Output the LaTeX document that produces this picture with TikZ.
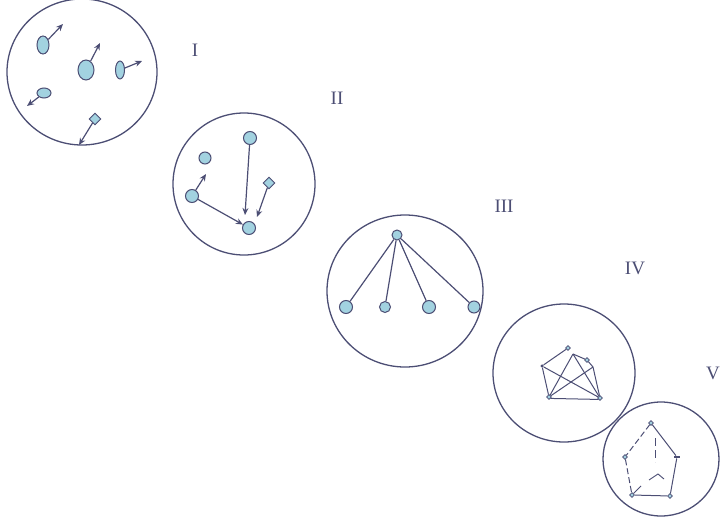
\documentclass[tikz,border=0pt]{standalone}
\usepackage{fontspec}
\setmainfont{Liberation Serif}
\usetikzlibrary{shapes.geometric,arrows.meta}
\definecolor{ln}{HTML}{4C4E74}
\definecolor{nf}{HTML}{A2D2E0}
\tikzset{
  ring/.style={draw=ln, line width=1.3pt},
  blob/.style={ellipse, draw=ln, fill=nf, inner sep=0pt, line width=1pt},
  ball/.style={circle, draw=ln, fill=nf, inner sep=0pt, line width=1pt},
  gem/.style={diamond, draw=ln, fill=nf, inner sep=0pt, line width=0.9pt},
  tiny/.style={diamond, draw=ln, fill=nf, inner sep=0pt, minimum size=5pt, line width=0.7pt},
  link/.style={draw=ln, line width=1.2pt},
  arr/.style={draw=ln, line width=1.2pt, -{Stealth[length=7pt,width=6pt]}},
  lbl/.style={text=ln, font=\fontsize{19}{19}\selectfont, inner sep=0pt}
}
\begin{document}
\begin{tikzpicture}[x=1pt,y=-1pt]
\useasboundingbox (0,0) rectangle (720,519);
\clip (0,0) rectangle (720,519);

% ---------- I ----------
\draw[ring] (82,72) ellipse [x radius=75, y radius=73];
\node[blob, minimum width=12pt, minimum height=18pt] (a1) at (43,45) {};
\node[blob, minimum width=16pt, minimum height=20pt] (a2) at (86,70) {};
\node[blob, minimum width=9pt, minimum height=18pt] (a3) at (120,70) {};
\node[blob, minimum width=14pt, minimum height=10pt] (a4) at (44,93) {};
\node[gem, minimum size=12pt] (a5) at (95,119) {};
\coordinate (e1) at (63,24);
\coordinate (e2) at (100,43);
\coordinate (e3) at (142,61);
\coordinate (e4) at (27,106);
\coordinate (e5) at (79,145);
\draw[arr] (a1) -- (e1);
\draw[arr] (a2) -- (e2);
\draw[arr] (a3) -- (e3);
\draw[arr] (a4) -- (e4);
\draw[arr] (a5) -- (e5);
\node[lbl] (l1) at (195,50) {I};

% ---------- II ----------
\draw[ring] (244,184) ellipse [x radius=71, y radius=71];
\node[ball, minimum size=13pt] (b1) at (250,138) {};
\node[ball, minimum size=12pt] (b2) at (205,158) {};
\node[gem, minimum size=12pt] (b3) at (269,183) {};
\node[ball, minimum size=13pt] (b4) at (192,196) {};
\node[ball, minimum size=13pt] (b5) at (249,228) {};
\coordinate (f1) at (245,215);
\coordinate (f2) at (206,174);
\coordinate (f3) at (257,217);
\draw[arr] (b1) -- (f1);
\draw[arr] (b4) -- (f2);
\draw[arr] (b3) -- (f3);
\draw[arr] (b4) -- (b5);
\node[lbl] (l2) at (337,98) {II};

% ---------- III ----------
\draw[ring] (405,291) ellipse [x radius=78, y radius=76];
\node[ball, minimum size=10pt] (c0) at (397,235) {};
\node[ball, minimum size=13pt] (c1) at (346,307) {};
\node[ball, minimum size=11pt] (c2) at (385,307) {};
\node[ball, minimum size=13pt] (c3) at (429,307) {};
\node[ball, minimum size=12pt] (c4) at (474,307) {};
\draw[link] (c0) -- (c1);
\draw[link] (c0) -- (c2);
\draw[link] (c0) -- (c3);
\draw[link] (c0) -- (c4);
\node[lbl] (l3) at (504,206) {III};

% ---------- IV ----------
\draw[ring] (564,373) ellipse [x radius=71, y radius=69];
\node[tiny] (dA) at (568,348) {};
\node[tiny] (dC) at (587,360) {};
\node[circle, fill=ln, inner sep=0pt, minimum size=3.5pt] (dD) at (542,366) {};
\node[tiny] (dE) at (549,397) {};
\node[tiny] (dF) at (600,398) {};
\coordinate (dB) at (573,354);
\coordinate (dG) at (593,367);
\draw[link, line width=1pt] (dD) -- (dA);
\draw[link, line width=1pt] (dB) -- (dC);
\draw[link, line width=1pt] (dC) -- (dG) -- (dF);
\draw[link, line width=1pt] (dD) -- (dF);
\draw[link, line width=1pt] (dB) -- (dE);
\draw[link, line width=1pt] (dB) -- (dF);
\draw[link, line width=1pt] (dG) -- (dE);
\draw[link, line width=1pt] (dD) -- (dE);
\draw[link, line width=1pt] (dE.south east) -- (dF.south west);
\node[lbl] (l4) at (635,268) {IV};

% ---------- V ----------
\draw[ring] (661,459) ellipse [x radius=58, y radius=57];
\node[tiny] (v1) at (651,423) {};
\node[tiny] (v2) at (625,457) {};
\node[rectangle, fill=ln, inner sep=0pt, minimum width=6pt, minimum height=2.5pt] (v3) at (677,457) {};
\node[tiny] (v4) at (632,495) {};
\node[tiny] (v5) at (670,496) {};
\coordinate (w1) at (655,438);
\coordinate (w2) at (655,462);
\coordinate (w3) at (649,480);
\coordinate (w4) at (658,474);
\coordinate (w5) at (664,479);
\coordinate (w6) at (641,486);
\draw[link, dash pattern=on 6pt off 3pt, line width=1pt] (v1) -- (v2);
\draw[link, line width=1pt] (v1) -- (v3);
\draw[link, line width=1pt] (v3) -- (v5);
\draw[link, line width=1pt] (v4) -- (v5);
\draw[link, dash pattern=on 6pt off 3pt, line width=1pt] (v2) -- (v4);
\draw[link, dash pattern=on 8pt off 4pt, line width=1pt] (w1) -- (w2);
\draw[link, line width=0.9pt] (w3) -- (w4) -- (w5);
\draw[link, line width=0.9pt] (v4) -- (w6);
\node[lbl] (l5) at (713,373) {V};
\end{tikzpicture}
\end{document}
